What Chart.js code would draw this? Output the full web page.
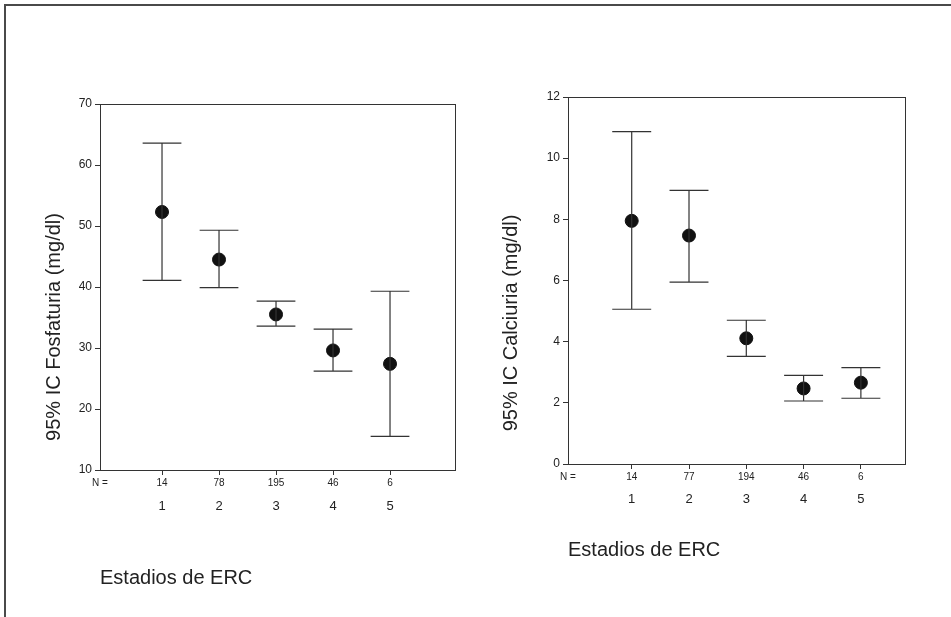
<!DOCTYPE html>
<html lang="es">
<head>
<meta charset="utf-8">
<title>Fosfaturia y calciuria por estadio de ERC</title>
<script src="https://cdn.jsdelivr.net/npm/chart.js@4/dist/chart.umd.min.js"></script>
<style>
  body { margin: 0; background: #fff; }
  #marco {
    position: absolute; left: 4px; top: 4px; width: 960px; height: 620px;
    border-left: 2px solid #4a4a4a; border-top: 2px solid #4a4a4a;
  }
  .grafico { position: absolute; top: 0; height: 617px; }
  #izq { left: 0; width: 470px; }
  #der { left: 470px; width: 481px; }
</style>
</head>
<body>
<div id="marco"></div>
<div class="grafico" id="izq"><canvas id="grafFosfaturia"></canvas></div>
<div class="grafico" id="der"><canvas id="grafCalciuria"></canvas></div>

<script>
// Estadios de ERC y tamaños de muestra
const estadios = [1, 2, 3, 4, 5];
const nFosfaturia = [14, 78, 195, 46, 6];
const nCalciuria = [14, 77, 194, 46, 6];

// Media e IC 95% de fosfaturia (mg/dl)
const mediaFosfaturia = [52.3, 44.5, 35.5, 29.6, 27.4];
const infFosfaturia = [41.1, 39.9, 33.6, 26.2, 15.5];
const supFosfaturia = [63.6, 49.3, 37.7, 33.1, 39.3];

// Media e IC 95% de calciuria (mg/dl)
const mediaCalciuria = [7.95, 7.47, 4.11, 2.47, 2.66];
const infCalciuria = [5.06, 5.95, 3.52, 2.06, 2.15];
const supCalciuria = [10.87, 8.95, 4.7, 2.9, 3.15];

const ticksFosfaturia = [10, 20, 30, 40, 50, 60, 70];
const ticksCalciuria = [0, 2, 4, 6, 8, 10, 12];

const FUENTE = "'Liberation Sans', Arial, Helvetica, sans-serif";
const TINTA = "#222";
const ANCHO_BARRA = 0.34; // media anchura del tope, en unidades del eje x

// segmentos del IC: línea vertical + dos topes, separados por huecos
function barrasError(inf, sup) {
  const pts = [];
  estadios.forEach((e, i) => {
    pts.push({ x: e, y: inf[i] }, { x: e, y: sup[i] }, { x: e, y: null });
    pts.push({ x: e - ANCHO_BARRA, y: sup[i] }, { x: e + ANCHO_BARRA, y: sup[i] }, { x: e, y: null });
    pts.push({ x: e - ANCHO_BARRA, y: inf[i] }, { x: e + ANCHO_BARRA, y: inf[i] }, { x: e, y: null });
  });
  return pts;
}

// marco del área, fila de N, números de estadio y títulos
const textos = {
  id: "textos",
  afterDraw(chart, args, o) {
    const { ctx, chartArea: a, scales } = chart;
    ctx.save();
    ctx.strokeStyle = "#333";
    ctx.lineWidth = 1;
    ctx.strokeRect(Math.round(a.left) + 0.5, Math.round(a.top) + 0.5,
      Math.round(a.right - a.left), Math.round(a.bottom - a.top));

    ctx.fillStyle = TINTA;
    ctx.textAlign = "center";
    ctx.textBaseline = "middle";
    ctx.font = "10px " + FUENTE;
    ctx.fillText("N =", a.left, a.bottom + o.filaN);
    estadios.forEach((e, i) => {
      const x = scales.x.getPixelForValue(e);
      ctx.font = "10px " + FUENTE;
      ctx.fillText(String(o.n[i]), x, a.bottom + o.filaN);
      ctx.font = "13px " + FUENTE;
      ctx.fillText(String(e), x, a.bottom + o.filaEstadio);
    });

    ctx.font = "20px " + FUENTE;
    ctx.textAlign = "left";
    ctx.fillText("Estadios de ERC", a.left, a.bottom + o.tituloX);

    ctx.translate(a.left + o.tituloYx, o.tituloYy);
    ctx.rotate(-Math.PI / 2);
    ctx.textAlign = "center";
    ctx.fillText(o.tituloY, 0, 0);
    ctx.restore();
  }
};

function crearGrafico(id, d) {
  new Chart(document.getElementById(id), {
    type: "scatter",
    data: {
      datasets: [
        {
          data: barrasError(d.inf, d.sup),
          showLine: true,
          spanGaps: false,
          borderColor: "#333",
          borderWidth: 1.2,
          pointRadius: 0,
        },
        {
          data: estadios.map((e, i) => ({ x: e, y: d.media[i] })),
          pointRadius: 6.5,
          pointHoverRadius: 6.5,
          backgroundColor: "#111",
          borderColor: "#111",
        },
      ],
    },
    options: {
      responsive: true,
      maintainAspectRatio: false,
      animation: false,
      events: [],
      layout: { padding: d.padding },
      plugins: {
        legend: { display: false },
        tooltip: { enabled: false },
        textos: d.textos,
      },
      scales: {
        x: {
          type: "linear",
          min: d.xMin,
          max: d.xMax,
          afterBuildTicks: (s) => { s.ticks = estadios.map((v) => ({ value: v })); },
          afterFit: (s) => { s.height = d.altoX; },
          border: { display: false },
          grid: { drawOnChartArea: false, tickLength: 5, color: "#333" },
          ticks: { callback: () => "" },
        },
        y: {
          min: d.yMin,
          max: d.yMax,
          afterBuildTicks: (s) => { s.ticks = d.ticks.map((v) => ({ value: v })); },
          afterFit: (s) => { s.width = d.anchoY; },
          border: { display: false },
          grid: { drawOnChartArea: false, tickLength: 5, color: "#333" },
          ticks: { color: TINTA, padding: 3, font: { family: FUENTE, size: 12 } },
        },
      },
    },
    plugins: [textos],
  });
}

crearGrafico("grafFosfaturia", {
  media: mediaFosfaturia, inf: infFosfaturia, sup: supFosfaturia,
  ticks: ticksFosfaturia, yMin: 10, yMax: 70,
  xMin: -0.088, xMax: 6.14,
  padding: { top: 104, right: 15, bottom: 0, left: 0 },
  anchoY: 100, altoX: 147,
  textos: {
    n: nFosfaturia, filaN: 13, filaEstadio: 36, tituloX: 108,
    tituloY: "95% IC Fosfaturia (mg/dl)", tituloYx: -46, tituloYy: 327,
  },
});

crearGrafico("grafCalciuria", {
  media: mediaCalciuria, inf: infCalciuria, sup: supCalciuria,
  ticks: ticksCalciuria, yMin: 0, yMax: 12,
  xMin: -0.112, xMax: 5.77,
  padding: { top: 97, right: 46, bottom: 0, left: 0 },
  anchoY: 98, altoX: 153,
  textos: {
    n: nCalciuria, filaN: 13, filaEstadio: 35, tituloX: 86,
    tituloY: "95% IC Calciuria (mg/dl)", tituloYx: -57, tituloYy: 323,
  },
});
</script>
</body>
</html>
